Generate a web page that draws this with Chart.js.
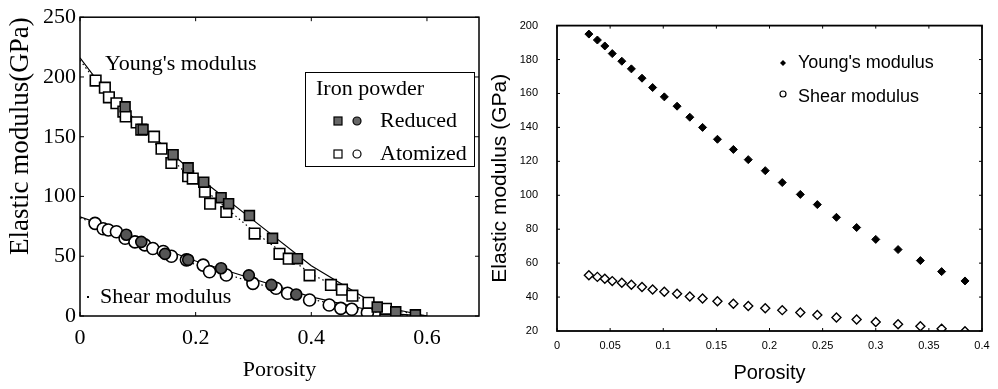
<!DOCTYPE html>
<html>
<head>
<meta charset="utf-8">
<script src="https://cdn.jsdelivr.net/npm/chart.js@4.4.1/dist/chart.umd.min.js"></script>
<style>
  body { margin: 0; background: #fff; }
  #wrap { position: relative; width: 998px; height: 389px; }
  canvas { position: absolute; top: 0; }
  #left { left: 0; }
  #right { left: 486px; }
</style>
</head>
<body>
<div id="wrap">
  <canvas id="left" width="490" height="389"></canvas>
  <canvas id="right" width="512" height="389"></canvas>
</div>
<script>
// ---- left panel: iron powder compacts ----
const redSqX = [0.078, 0.109, 0.161, 0.187, 0.214, 0.244, 0.257, 0.293, 0.333, 0.376, 0.514, 0.546, 0.58];
const redSqY = [175, 156, 135, 124, 112, 99, 94, 84, 65, 48, 7.5, 3.5, 1];
const atoSqX = [0.027, 0.043, 0.050, 0.063, 0.075, 0.079, 0.098, 0.106, 0.128, 0.141, 0.158, 0.187, 0.195, 0.216, 0.225, 0.253, 0.302, 0.345, 0.361, 0.397, 0.434, 0.453, 0.471, 0.499, 0.529];
const atoSqY = [197, 191, 183, 178, 171, 167, 162, 156, 150, 140, 128, 117, 115, 104, 94, 87, 69, 52, 48, 34, 26, 22, 17, 11, 6];
const redCirX = [0.080, 0.106, 0.147, 0.187, 0.244, 0.292, 0.331, 0.374];
const redCirY = [68, 62, 52, 47, 40, 34, 26, 18];
const atoCirX = [0.026, 0.040, 0.049, 0.063, 0.078, 0.095, 0.112, 0.126, 0.144, 0.158, 0.184, 0.213, 0.224, 0.253, 0.299, 0.339, 0.359, 0.397, 0.431, 0.451, 0.470, 0.497, 0.529];
const atoCirY = [77.5, 73, 72, 70.5, 65, 62, 59.5, 56.5, 54, 50, 47, 42.6, 37, 34.3, 27.3, 23.2, 19, 13.4, 9.2, 6.4, 5.6, 2.8, 0.5];
// fitted curves
const fitX = [0, 0.03, 0.1, 0.2, 0.3, 0.4, 0.5, 0.55, 0.6];
const youngSolid = [216, 197, 162, 118, 80, 42, 13, 5, 0];
const youngDotted = [214, 195, 158, 112, 71, 35, 11, 4, 0];
const shearSolid = [83, 78, 64, 46, 31, 16, 5, 1.5, 0];
const shearDotted = [82, 77, 62, 43, 28, 14, 4, 1, 0];
const leftXTicks = [0, 0.2, 0.4, 0.6];
const leftXLabels = ['0', '0.2', '0.4', '0.6'];
const leftYTicks = [0, 50, 100, 150, 200, 250];

// ---- right panel ----
const porosity = [0.030, 0.038, 0.045, 0.052, 0.061, 0.070, 0.080, 0.090, 0.101, 0.113, 0.125, 0.137, 0.151, 0.166, 0.180, 0.196, 0.212, 0.229, 0.245, 0.263, 0.282, 0.300, 0.321, 0.342, 0.362, 0.384];
const youngs = [195, 191.5, 188, 183.5, 179, 174.5, 169, 163.5, 158, 152.5, 146, 140, 133, 127, 121, 114.5, 107.5, 100.5, 94.5, 87, 81, 74, 68, 61.5, 55, 49.5];
const shear = [52.8, 51.9, 50.8, 49.4, 48.5, 47.2, 45.9, 44.5, 43.2, 41.9, 40.4, 39.1, 37.6, 36.0, 34.7, 33.4, 32.3, 30.9, 29.5, 27.9, 26.8, 25.3, 24.0, 22.8, 21.3, 19.8];
const rightXTicks = [0, 0.05, 0.1, 0.15, 0.2, 0.25, 0.3, 0.35, 0.4];
const rightXLabels = ['0', '0.05', '0.1', '0.15', '0.2', '0.25', '0.3', '0.35', '0.4'];
const rightYTicks = [20, 40, 60, 80, 100, 120, 140, 160, 180, 200];

const pts = (xs, ys) => xs.map((x, i) => ({x: x, y: ys[i]}));

const SERIF = "'Liberation Serif', 'Times New Roman', serif";
const SANS = "'Liberation Sans', Arial, sans-serif";

// box around the plot with small inward ticks
const framePlugin = {
  id: 'frame',
  afterDatasetsDraw(chart, args, opts) {
    const {ctx, chartArea: a} = chart;
    const x = chart.scales.x, y = chart.scales.y;
    ctx.save();
    ctx.strokeStyle = '#000';
    ctx.lineWidth = opts.width;
    ctx.strokeRect(a.left, a.top, a.right - a.left, a.bottom - a.top);
    ctx.lineWidth = 1;
    ctx.beginPath();
    x.ticks.forEach(k => {
      const p = x.getPixelForValue(k.value);
      ctx.moveTo(p, a.bottom); ctx.lineTo(p, a.bottom - opts.tick);
      ctx.moveTo(p, a.top); ctx.lineTo(p, a.top + opts.tick);
    });
    y.ticks.forEach(k => {
      const p = y.getPixelForValue(k.value);
      ctx.moveTo(a.left, p); ctx.lineTo(a.left + opts.tick, p);
      ctx.moveTo(a.right, p); ctx.lineTo(a.right - opts.tick, p);
    });
    ctx.stroke();
    ctx.restore();
  }
};

const leftNotes = {
  id: 'leftNotes',
  afterDraw(chart) {
    const ctx = chart.ctx;
    ctx.save();
    ctx.fillStyle = '#000';
    ctx.font = '22px ' + SERIF;
    ctx.textBaseline = 'middle';
    ctx.textAlign = 'left';
    ctx.fillText("Young's modulus", 105, 64);
    ctx.fillText('Shear modulus', 100, 297);
    ctx.fillRect(87, 296, 2, 2);
    // legend box
    ctx.fillStyle = '#fff';
    ctx.fillRect(305, 72, 169, 94);
    ctx.strokeStyle = '#000';
    ctx.lineWidth = 1;
    ctx.strokeRect(305.5, 72.5, 169, 94);
    ctx.fillStyle = '#000';
    ctx.fillText('Iron powder', 316, 89);
    ctx.fillText('Reduced', 380, 121);
    ctx.fillText('Atomized', 380, 154);
    ctx.lineWidth = 1.2;
    ctx.fillStyle = '#666';
    ctx.fillRect(334, 117, 8, 8); ctx.strokeRect(334, 117, 8, 8);
    ctx.beginPath(); ctx.arc(357, 121, 4, 0, Math.PI * 2); ctx.fill(); ctx.stroke();
    ctx.strokeRect(334, 150, 8, 8);
    ctx.beginPath(); ctx.arc(357, 154, 4, 0, Math.PI * 2); ctx.stroke();
    ctx.restore();
  }
};

const rightLegend = {
  id: 'rightLegend',
  afterDraw(chart) {
    const ctx = chart.ctx;
    const ox = 486;
    ctx.save();
    ctx.fillStyle = '#000';
    ctx.strokeStyle = '#000';
    ctx.font = '18px ' + SANS;
    ctx.textBaseline = 'middle';
    ctx.fillText("Young's modulus", 798 - ox, 63);
    ctx.fillText('Shear modulus', 798 - ox, 97);
    ctx.beginPath();
    ctx.moveTo(783 - ox, 60); ctx.lineTo(786 - ox, 63); ctx.lineTo(783 - ox, 66); ctx.lineTo(780 - ox, 63);
    ctx.closePath(); ctx.fill();
    ctx.lineWidth = 1.2;
    ctx.beginPath(); ctx.arc(783 - ox, 94, 3, 0, Math.PI * 2); ctx.stroke();
    ctx.restore();
  }
};

new Chart(document.getElementById('left'), {
  type: 'scatter',
  data: {
    datasets: [
      {data: pts(fitX, youngSolid), showLine: true, borderColor: '#000', borderWidth: 1.2, pointRadius: 0, order: 2},
      {data: pts(fitX, youngDotted), showLine: true, borderColor: '#000', borderWidth: 1.2, borderDash: [1.5, 3], pointRadius: 0, order: 2},
      {data: pts(fitX, shearSolid), showLine: true, borderColor: '#000', borderWidth: 1.2, pointRadius: 0, order: 2},
      {data: pts(fitX, shearDotted), showLine: true, borderColor: '#000', borderWidth: 1.2, borderDash: [1.5, 3], pointRadius: 0, order: 2},
      {data: pts(atoSqX, atoSqY), pointStyle: 'rect', pointRadius: 7.5, backgroundColor: '#fff', borderColor: '#000', borderWidth: 1.6, order: 1},
      {data: pts(redSqX, redSqY), pointStyle: 'rect', pointRadius: 7, backgroundColor: '#666', borderColor: '#000', borderWidth: 1.6, order: 0},
      {data: pts(atoCirX, atoCirY), pointStyle: 'circle', pointRadius: 6, backgroundColor: '#fff', borderColor: '#000', borderWidth: 1.6, order: 1},
      {data: pts(redCirX, redCirY), pointStyle: 'circle', pointRadius: 5.5, backgroundColor: '#555', borderColor: '#000', borderWidth: 1.6, order: 0}
    ]
  },
  options: {
    responsive: false,
    animation: false,
    layout: {padding: {top: 17, right: 11, left: 0, bottom: 0}},
    plugins: {legend: {display: false}, tooltip: {enabled: false}, frame: {width: 1.5, tick: 4}},
    scales: {
      x: {
        type: 'linear', min: 0, max: 0.69,
        grid: {display: false, drawTicks: false}, border: {display: false},
        afterBuildTicks: s => { s.ticks = leftXTicks.map(v => ({value: v})); },
        afterFit: s => { s.height = 73; },
        ticks: {color: '#000', font: {family: SERIF, size: 22}, padding: 9, autoSkip: false, maxRotation: 0,
          callback: (v, i) => leftXLabels[i]},
        title: {display: true, text: 'Porosity', color: '#000', font: {family: SERIF, size: 22}, padding: {bottom: 6}}
      },
      y: {
        min: 0, max: 250,
        grid: {display: false, drawTicks: false}, border: {display: false},
        afterBuildTicks: s => { s.ticks = leftYTicks.map(v => ({value: v})); },
        afterFit: s => { s.width = 80; },
        ticks: {color: '#000', font: {family: SERIF, size: 22}, padding: 4, autoSkip: false},
        title: {display: true, text: 'Elastic modulus(GPa)', align: 'end', color: '#000', font: {family: SERIF, size: 27}, padding: {top: 5}}
      }
    }
  },
  plugins: [framePlugin, leftNotes]
});

new Chart(document.getElementById('right'), {
  type: 'scatter',
  data: {
    datasets: [
      {label: "Young's modulus", data: pts(porosity, youngs), pointStyle: 'rectRot', pointRadius: 4, backgroundColor: '#000', borderColor: '#000', borderWidth: 1},
      {label: 'Shear modulus', data: pts(porosity, shear), pointStyle: 'rectRot', pointRadius: 4.5, backgroundColor: '#fff', borderColor: '#000', borderWidth: 1.4}
    ]
  },
  options: {
    responsive: false,
    animation: false,
    layout: {padding: {top: 13, right: 16, left: 0, bottom: 0}},
    plugins: {legend: {display: false}, tooltip: {enabled: false}, frame: {width: 1.8, tick: 3}},
    scales: {
      x: {
        type: 'linear', min: 0, max: 0.4,
        grid: {display: false, drawTicks: false}, border: {display: false},
        afterBuildTicks: s => { s.ticks = rightXTicks.map(v => ({value: v})); },
        afterFit: s => { s.height = 58; },
        ticks: {color: '#000', font: {family: SANS, size: 11}, padding: 8, autoSkip: false, maxRotation: 0,
          callback: (v, i) => rightXLabels[i]},
        title: {display: true, text: 'Porosity', color: '#000', font: {family: SANS, size: 20}, padding: {bottom: 4}}
      },
      y: {
        min: 20, max: 200,
        grid: {display: false, drawTicks: false}, border: {display: false},
        afterBuildTicks: s => { s.ticks = rightYTicks.map(v => ({value: v})); },
        afterFit: s => { s.width = 71; },
        ticks: {color: '#000', font: {family: SANS, size: 11}, padding: 19, autoSkip: false},
        title: {display: true, text: 'Elastic modulus (GPa)', color: '#000', font: {family: SANS, size: 21}, padding: {top: 2}}
      }
    }
  },
  plugins: [framePlugin, rightLegend]
});
</script>
</body>
</html>
